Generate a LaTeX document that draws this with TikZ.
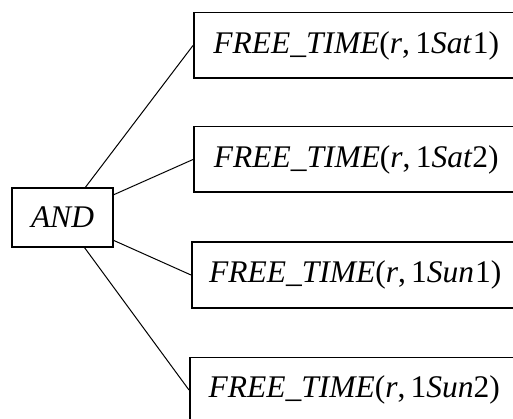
\documentclass[tikz,border=0pt]{standalone}
\usepackage{fontspec}
\setmainfont{Liberation Serif}
\begin{document}
\begin{tikzpicture}[x=1pt,y=-1pt,
  lbl/.style={font=\fontsize{31.5}{36}\selectfont\itshape},
  leaf/.style={draw,line width=1.5pt,rectangle,minimum height=65.5pt,inner sep=0pt,lbl,anchor=west},
  root/.style={draw,line width=1.5pt,rectangle,minimum width=101pt,minimum height=59pt,inner sep=0pt,lbl},
  link/.style={line width=1pt}]
\useasboundingbox (0,0) rectangle (513,419);
\node[root] (and) at (62.5,217.5) {AND};
\node[leaf,minimum width=325pt] (b1) at (193,45.5) {FREE\_TIME\upshape(\textit{r},\,1\textit{Sat\/}\kern1pt1)};
\node[leaf,minimum width=325pt] (b2) at (193,159.5) {FREE\_TIME\upshape(\textit{r},\,1\textit{Sat\/}2)};
\node[leaf,minimum width=327pt] (b3) at (191,275) {FREE\_TIME\upshape(\textit{r},\,1\textit{Sun\/}\kern1pt1)};
\node[leaf,minimum width=329pt] (b4) at (189,390) {FREE\_TIME\upshape(\textit{r},\,1\textit{Sun\/}2)};
\draw[link] (and) -- (b1.west);
\draw[link] (and) -- (b2.west);
\draw[link] (and) -- (b3.west);
\draw[link] (and) -- (b4.west);
\end{tikzpicture}
\end{document}
